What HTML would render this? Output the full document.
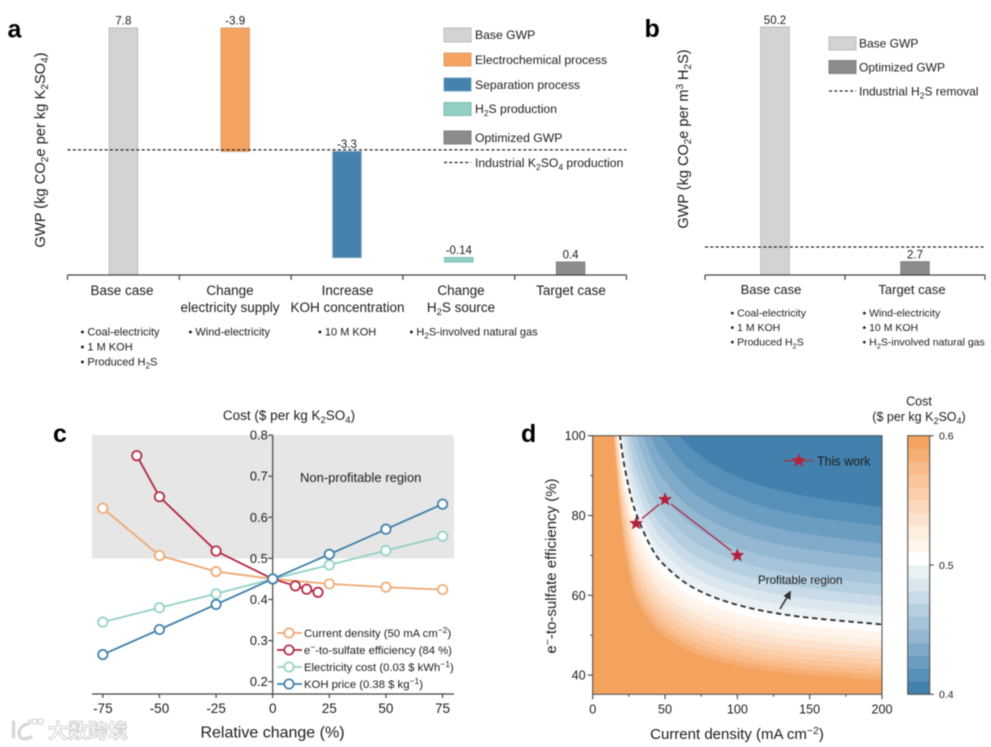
<!DOCTYPE html>
<html lang="en">
<head>
<meta charset="utf-8">
<title>GWP and cost analysis</title>
<style>
html,body{margin:0;padding:0;background:#fff;width:991px;height:747px;overflow:hidden}
svg{display:block;filter:blur(0.4px)}
text{font-family:"Liberation Sans","Noto Sans CJK SC",sans-serif;fill:#1c1c1c}
.b{font-weight:bold;font-size:25px;fill:#000}
</style>
</head>
<body>
<svg id="fig" xmlns="http://www.w3.org/2000/svg" width="991" height="747" viewBox="0 0 991 747">
<defs>
<clipPath id="clip-d"><rect x="592.7" y="435.7" width="289.3" height="258.6"/></clipPath>
</defs>
<g id="panel-a"></g>
<g id="panel-b"></g>
<g id="panel-c"></g>
<g id="panel-d"></g>

<text class="b" x="7.5" y="37.5">a</text>
<text class="b" x="644.5" y="37">b</text>
<text class="b" x="53" y="442">c</text>
<text class="b" x="521" y="442">d</text>

<!-- panel a static text -->
<text x="45" y="150" font-size="14.7" text-anchor="middle" transform="rotate(-90 45 150)">GWP (kg CO<tspan dy="3" font-size="10">2</tspan><tspan dy="-3">e per kg K</tspan><tspan dy="3" font-size="10">2</tspan><tspan dy="-3">SO</tspan><tspan dy="3" font-size="10">4</tspan><tspan dy="-3">)</tspan></text>
<g font-size="12.2">
<rect x="444" y="28" width="27" height="14" fill="#d3d3d3" stroke="#bbb"/>
<text x="475" y="39">Base GWP</text>
<rect x="444" y="53" width="27" height="13" fill="#f4a460" stroke="#d9a070"/>
<text x="475" y="64">Electrochemical process</text>
<rect x="444" y="78" width="27" height="13" fill="#4682ae" stroke="#6fa0c0"/>
<text x="475" y="89">Separation process</text>
<rect x="444" y="102.5" width="27" height="13" fill="#92d0c6" stroke="#7cbdb2"/>
<text x="475" y="113">H<tspan dy="3" font-size="8.5">2</tspan><tspan dy="-3">S production</tspan></text>
<rect x="444" y="131" width="27" height="13" fill="#8c8c8c" stroke="#808080"/>
<text x="475" y="142">Optimized GWP</text>
<line x1="444" x2="471" y1="162.5" y2="162.5" stroke="#222" stroke-width="1.3" stroke-dasharray="3 2.3"/>
<text x="475" y="167">Industrial K<tspan dy="3" font-size="8.5">2</tspan><tspan dy="-3">SO</tspan><tspan dy="3" font-size="8.5">4</tspan><tspan dy="-3"> production</tspan></text>
</g>
<g font-size="13.5" text-anchor="middle">
<text x="122" y="295">Base case</text>
<text x="230" y="295">Change</text>
<text x="230" y="312">electricity supply</text>
<text x="347.5" y="295">Increase</text>
<text x="347.5" y="312">KOH concentration</text>
<text x="461" y="295">Change</text>
<text x="461" y="312">H<tspan dy="3" font-size="9.5">2</tspan><tspan dy="-3">S source</tspan></text>
<text x="571" y="295">Target case</text>
</g>
<g font-size="11">
<text x="80.5" y="335.5">• Coal-electricity</text>
<text x="80.5" y="350.5">• 1 M KOH</text>
<text x="80.5" y="365.5">• Produced H<tspan dy="3" font-size="8">2</tspan><tspan dy="-3">S</tspan></text>
<text x="188.5" y="335.5">• Wind-electricity</text>
<text x="318" y="335.5">• 10 M KOH</text>
<text x="409.5" y="335.5">• H<tspan dy="3" font-size="8">2</tspan><tspan dy="-3">S-involved natural gas</tspan></text>
</g>

<!-- panel b static text -->
<text x="688" y="139" font-size="14.5" text-anchor="middle" transform="rotate(-90 688 139)">GWP (kg CO<tspan dy="3" font-size="10">2</tspan><tspan dy="-3">e per m</tspan><tspan dy="-5" font-size="10">3</tspan><tspan dy="5"> H</tspan><tspan dy="3" font-size="10">2</tspan><tspan dy="-3">S)</tspan></text>
<g font-size="12">
<rect x="829" y="37" width="27" height="13" fill="#d3d3d3" stroke="#bbb"/>
<text x="859" y="47.5">Base GWP</text>
<rect x="829" y="60.5" width="27" height="13" fill="#8c8c8c" stroke="#808080"/>
<text x="859" y="71.5">Optimized GWP</text>
<line x1="829" x2="856" y1="91" y2="91" stroke="#222" stroke-width="1.3" stroke-dasharray="3 2.3"/>
<text x="859" y="95.5">Industrial H<tspan dy="3" font-size="8.5">2</tspan><tspan dy="-3">S removal</tspan></text>
</g>
<g font-size="13" text-anchor="middle">
<text x="771" y="294">Base case</text>
<text x="912" y="294">Target case</text>
</g>
<g font-size="10.5">
<text x="730.5" y="316.5">• Coal-electricity</text>
<text x="730.5" y="331">• 1 M KOH</text>
<text x="730.5" y="345.5">• Produced H<tspan dy="3" font-size="7.5">2</tspan><tspan dy="-3">S</tspan></text>
<text x="862.5" y="316.5">• Wind-electricity</text>
<text x="862.5" y="331">• 10 M KOH</text>
<text x="862.5" y="345.5">• H<tspan dy="3" font-size="7.5">2</tspan><tspan dy="-3">S-involved natural gas</tspan></text>
</g>

<!-- panel c static text -->
<text x="289" y="420" font-size="13.5" text-anchor="middle">Cost ($ per kg K<tspan dy="3" font-size="9.5">2</tspan><tspan dy="-3">SO</tspan><tspan dy="3" font-size="9.5">4</tspan><tspan dy="-3">)</tspan></text>
<text x="272.5" y="737.5" font-size="16" text-anchor="middle">Relative change (%)</text>
<text x="300" y="482" font-size="13">Non-profitable region</text>

<!-- panel d static text -->
<text x="737" y="739" font-size="15" text-anchor="middle">Current density (mA cm<tspan dy="-5" font-size="10.5">−2</tspan><tspan dy="5">)</tspan></text>
<text x="556" y="566" font-size="15" text-anchor="middle" transform="rotate(-90 556 566)">e<tspan dy="-5" font-size="10.5">−</tspan><tspan dy="5">-to-sulfate efficiency (%)</tspan></text>
<text x="919" y="405.5" font-size="12.5" text-anchor="middle">Cost</text>
<text x="919" y="421" font-size="12.5" text-anchor="middle">($ per kg K<tspan dy="3" font-size="9">2</tspan><tspan dy="-3">SO</tspan><tspan dy="3" font-size="9">4</tspan><tspan dy="-3">)</tspan></text>

<g id="overlay-d">
<text x="758" y="584" font-size="11.6">Profitable region</text>
<text x="817" y="465.5" font-size="12.5">This work</text>
</g>

<!-- watermark -->
<g opacity="0.9">
<path d="M13.5 722 V737 M27 724 C19 727 17 733 21 738 C24 739 28 739 31 737" fill="none" stroke="#d2d2d2" stroke-width="3.2" stroke-linecap="round"/>
<line x1="29.5" y1="719" x2="29.5" y2="725" stroke="#d2d2d2" stroke-width="1.6"/>
<circle cx="34.5" cy="721.5" r="2.7" fill="#fff" stroke="#cfcfcf" stroke-width="1.2"/>
<circle cx="40.5" cy="721.5" r="2.7" fill="#fff" stroke="#cfcfcf" stroke-width="1.2"/>
<text x="48" y="738" font-size="20" font-weight="bold" letter-spacing="0" style="fill:#fff;stroke:#bdbdbd;stroke-width:.7">大数跨境</text>
</g>
</svg>

<script>
// ---------- Panel a data ----------
const aCategories = ['Base case', 'Change electricity supply', 'Increase KOH concentration', 'Change H2S source', 'Target case'];
const aDeltas = [7.8, -3.9, -3.35, -0.14, 0.41];
const aPrinted = ['7.8', '-3.9', '-3.3', '-0.14', '0.4'];
const aIndustrialLine = [3.95];

// ---------- Panel b data ----------
const bCategories = ['Base case', 'Target case'];
const bValues = [50.2, 2.7];
const bPrinted = ['50.2', '2.7'];
const bIndustrialLine = [5.67];

// ---------- Panel c data ----------
const cXTicks = [-75, -50, -25, 0, 25, 50, 75];
const cYTicks = [0.2, 0.3, 0.4, 0.5, 0.6, 0.7, 0.8];
const cProfitLimit = [0.5];
const currentX = [-75, -50, -25, 0, 25, 50, 75];
const currentY = [0.622, 0.507, 0.468, 0.45, 0.438, 0.43, 0.424];
const efficiencyX = [-60, -50, -25, 0, 10, 15, 20];
const efficiencyY = [0.75, 0.65, 0.518, 0.45, 0.433, 0.425, 0.4175];
const electricityX = [-75, -50, -25, 0, 25, 50, 75];
const electricityY = [0.345, 0.38, 0.414, 0.45, 0.484, 0.519, 0.554];
const kohX = [-75, -50, -25, 0, 25, 50, 75];
const kohY = [0.266, 0.327, 0.388, 0.45, 0.51, 0.571, 0.632];

// ---------- Panel d data ----------
const dXTicks = [0, 50, 100, 150, 200];
const dXMinor = [25, 75, 125, 175];
const dYTicks = [40, 60, 80, 100];
const dYMinor = [50, 70, 90];
const workCurrent = [30, 50, 100];
const workEfficiency = [78, 84, 70];
const contourLevels = [0.41,0.42,0.43,0.44,0.45,0.46,0.47,0.48,0.49,0.50,0.51,0.52,0.53,0.54,0.55,0.56,0.57,0.58,0.59];
const contourCurrents = [10,12,15,20,25,30,40,50,70,100,140,200];
const contourEfficiency = [
 [227,201.7,176.2,150.8,135.5,125.4,112.6,105,96.3,89.7,85.4,82.1],
 [213.8,189.9,165.8,141.9,127.6,118,106,98.8,90.6,84.5,80.4,77.3],
 [201.9,179.4,156.6,134.1,120.5,111.5,100.1,93.4,85.6,79.8,75.9,73],
 [191.6,170.2,148.6,127.2,114.3,105.8,95,88.6,81.2,75.7,72,69.3],
 [182,161.7,141.2,120.8,108.6,100.5,90.3,84.1,77.2,71.9,68.4,65.8],
 [173.4,154,134.5,115.1,103.4,95.7,86,80.1,73.5,68.5,65.2,62.7],
 [165.5,147,128.4,109.9,98.8,91.4,82.1,76.5,70.1,65.4,62.2,59.8],
 [158.5,140.8,122.9,105.2,94.6,87.5,78.6,73.3,67.2,62.6,59.6,57.3],
 [151.9,134.9,117.8,100.8,90.6,83.9,75.3,70.2,64.4,60,57.1,54.9],
 [145.8,129.5,113.1,96.8,87,80.5,72.3,67.4,61.8,57.6,54.8,52.7],
 [140,127.9,111.3,94.6,84.7,77.4,69.5,64.8,59.4,55.4,52.7,50.7],
 [136,126.3,109.5,92.4,82.3,74.5,66.9,62.4,57.2,53.3,50.7,48.8],
 [132,124.7,107.8,90.2,80,71.9,64.6,60.2,55.2,51.5,49,47.1],
 [130,123.1,106,88,77.7,69.5,62.4,58.2,53.3,49.7,47.3,45.5],
 [128,121.4,104.2,85.8,75.3,67.1,60.3,56.2,51.5,48,45.7,44],
 [126,119.8,102.4,83.6,73,65,58.4,54.4,49.9,46.5,44.2,42.5],
 [124,118.2,100.7,81.4,70.7,63,56.6,52.7,48.4,45.1,42.9,41.2],
 [122,116.6,98.9,79.2,68.3,61.1,54.9,51.1,46.9,43.7,41.6,40],
 [120,115,97.1,77,66,59.3,53.2,49.6,45.5,42.4,40.4,38.8]
];
const profitableEfficiency = [145.8,129.5,113.1,96.8,87,80.5,72.3,67.4,61.8,57.6,54.8,52.7];
const colorbarTicks = [0.4, 0.5, 0.6];

// ---------- styling (not data) ----------
const bandColors = ['#4280ae','#568fb8','#6b9dc1','#80aac9','#94b8d2','#a5c3d9','#b6cfe0','#c9dbe8','#dbe7ef','#eaf1f5','#ffffff','#fff5ec','#feeedf','#fde3cf','#fcd9bd','#fbcfab','#fac59a','#f9bb89','#f6ae74','#f4a35e'];
const SVGNS = 'http://www.w3.org/2000/svg';

function make(tag, attrs, parent) {
  const n = document.createElementNS(SVGNS, tag);
  for (const k in attrs) n.setAttribute(k, attrs[k]);
  parent.appendChild(n);
  return n;
}

const AXIS = '#444';

// ---------- Panel a ----------
(function () {
  const g = document.getElementById('panel-a');
  const y0 = 275, unit = 31.67;
  const y = v => y0 - v * unit;
  const bandL = 67.5, bandW = 111.8, barW = 28.5;
  const xCenter = i => bandL + bandW * (i + 0.5);
  const fills = ['#d3d3d3', '#f4a460', '#4682ae', '#92d0c6', '#8c8c8c'];
  const strokes = ['#bbb', '#d9a070', '#6fa0c0', '#7cbdb2', '#808080'];
  let running = 0;
  aDeltas.forEach((d, i) => {
    const from = i === aDeltas.length - 1 ? 0 : running;
    const to = from + d;
    running = to;
    const top = Math.min(y(from), y(to));
    const h = Math.abs(y(from) - y(to));
    const cx = xCenter(i);
    const bar = make('rect', { x: cx - barW / 2, y: top, width: barW, height: h, fill: fills[i], stroke: strokes[i], 'stroke-width': 1 }, g);
    
    
    const lab = make('text', { x: cx, y: top - 3.5, 'font-size': 11.5, 'text-anchor': 'middle' }, g);
    lab.textContent = aPrinted[i];
    
    
  });
  const axis = make('line', { x1: bandL, x2: bandL + bandW * aCategories.length, y1: y0, y2: y0, stroke: AXIS, 'stroke-width': 1.2 }, g);
  
  
  for (let i = 0; i <= aCategories.length; i++) {
    const t = make('line', { x1: bandL + bandW * i, x2: bandL + bandW * i, y1: y0, y2: y0 + 5, stroke: AXIS, 'stroke-width': 1.2 }, g);
    
    
  }
  const dash = make('line', { x1: bandL, x2: bandL + bandW * aCategories.length, y1: y(aIndustrialLine[0]), y2: y(aIndustrialLine[0]), stroke: '#222', 'stroke-width': 1.3, 'stroke-dasharray': '3 2.3' }, g);
  
  
})();

// ---------- Panel b ----------
(function () {
  const g = document.getElementById('panel-b');
  const y0 = 275, unit = 4.94;
  const y = v => y0 - v * unit;
  const left = 705, band = 140, barW = 28.5;
  const xCenter = i => left + band * (i + 0.5);
  const fills = ['#d3d3d3', '#8c8c8c'];
  const strokes = ['#bbb', '#808080'];
  bValues.forEach((v, i) => {
    const cx = xCenter(i);
    const bar = make('rect', { x: cx - barW / 2, y: y(v), width: barW, height: y0 - y(v), fill: fills[i], stroke: strokes[i], 'stroke-width': 1 }, g);
    
    
    const lab = make('text', { x: cx, y: y(v) - 3, 'font-size': 11.5, 'text-anchor': 'middle' }, g);
    lab.textContent = bPrinted[i];
    
    
  });
  const axis = make('line', { x1: left, x2: left + band * bCategories.length, y1: y0, y2: y0, stroke: AXIS, 'stroke-width': 1.2 }, g);
  
  
  for (let i = 0; i <= bCategories.length; i++) {
    const t = make('line', { x1: left + band * i, x2: left + band * i, y1: y0, y2: y0 + 5, stroke: AXIS, 'stroke-width': 1.2 }, g);
    
    
  }
  const dash = make('line', { x1: left, x2: left + band * bCategories.length, y1: y(bIndustrialLine[0]), y2: y(bIndustrialLine[0]), stroke: '#222', 'stroke-width': 1.3, 'stroke-dasharray': '3 2.3' }, g);
  
  
})();

// ---------- Panel c ----------
(function () {
  const g = document.getElementById('panel-c');
  const x = v => 272.7 + v * 2.265;
  const y = v => 681.7 - (v - 0.2) * 411;
  const leftX = 92, rightX = 454, axisY = 694;
  const shade = make('rect', { x: leftX, y: y(0.8), width: rightX - leftX, height: y(cProfitLimit[0]) - y(0.8), fill: '#e6e6e6' }, g);
  
  
  const ax = make('line', { x1: leftX, x2: rightX, y1: axisY, y2: axisY, stroke: AXIS, 'stroke-width': 1.2 }, g);
  
  
  const ay = make('line', { x1: x(0), x2: x(0), y1: y(0.8), y2: axisY, stroke: AXIS, 'stroke-width': 1.2 }, g);
  
  
  cXTicks.forEach(v => {
    const t = make('line', { x1: x(v), x2: x(v), y1: axisY, y2: axisY + 4, stroke: AXIS, 'stroke-width': 1.2 }, g);
    
    
    const l = make('text', { x: x(v), y: axisY + 19, 'font-size': 13.5, 'text-anchor': 'middle' }, g);
    l.textContent = String(v);
    
    
  });
  cYTicks.forEach(v => {
    const t = make('line', { x1: x(0) - 4.5, x2: x(0), y1: y(v), y2: y(v), stroke: AXIS, 'stroke-width': 1.2 }, g);
    
    
    const l = make('text', { x: x(0) - 5, y: y(v) + 4.5, 'font-size': 12.8, 'text-anchor': 'end' }, g);
    l.textContent = v.toFixed(1);
    
    
  });
  const series = [
    { key: 'current-density', xs: currentX, ys: currentY, color: '#efa971' },
    { key: 'efficiency', xs: efficiencyX, ys: efficiencyY, color: '#b2263f' },
    { key: 'electricity-cost', xs: electricityX, ys: electricityY, color: '#93d1c6' },
    { key: 'koh-price', xs: kohX, ys: kohY, color: '#3f7fa9' }
  ];
  series.forEach(s => {
    const pl = make('polyline', { points: s.xs.map((v, i) => x(v) + ',' + y(s.ys[i])).join(' '), fill: 'none', stroke: s.color, 'stroke-width': 1.8 }, g);
    
    
    s.xs.forEach((v, i) => {
      const c = make('circle', { cx: x(v), cy: y(s.ys[i]), r: 4.7, fill: '#fff', stroke: s.color, 'stroke-width': 1.7 }, g);
      
      
    });
  });
  // legend
  const legendRows = [633, 650, 667, 684];
  const legendMarkup = [
    'Current density (50 mA cm<tspan dy="-4" font-size="8.5">−2</tspan><tspan dy="4">)</tspan>',
    'e<tspan dy="-4" font-size="8.5">−</tspan><tspan dy="4">-to-sulfate efficiency (84 %)</tspan>',
    'Electricity cost (0.03 $ kWh<tspan dy="-4" font-size="8.5">−1</tspan><tspan dy="4">)</tspan>',
    'KOH price (0.38 $ kg<tspan dy="-4" font-size="8.5">−1</tspan><tspan dy="4">)</tspan>'
  ];
  series.forEach((s, i) => {
    const ly = legendRows[i];
    const ln = make('line', { x1: 277, x2: 302, y1: ly, y2: ly, stroke: s.color, 'stroke-width': 1.7 }, g);
    
    
    const c = make('circle', { cx: 289, cy: ly, r: 4.7, fill: '#fff', stroke: s.color, 'stroke-width': 1.7 }, g);
    
    
    const t = make('text', { x: 304, y: ly + 4, 'font-size': 11.3 }, g);
    t.innerHTML = legendMarkup[i];
    
    
  });
})();

// ---------- Panel d ----------
(function () {
  const g = document.getElementById('panel-d');
  const left = 592.7, right = 882, top = 435.7, bottom = 694.3;
  const x = v => left + v * (right - left) / 200;
  const y = v => top + (100 - v) * 3.99;
  const smooth = pts => {
    let d = 'M' + pts[0][0] + ' ' + pts[0][1];
    for (let i = 0; i < pts.length - 1; i++) {
      const p0 = pts[i - 1] || pts[i], p1 = pts[i], p2 = pts[i + 1], p3 = pts[i + 2] || p2;
      d += 'C' + (p1[0] + (p2[0] - p0[0]) / 6) + ' ' + (p1[1] + (p2[1] - p0[1]) / 6) + ' ' +
        (p2[0] - (p3[0] - p1[0]) / 6) + ' ' + (p2[1] - (p3[1] - p1[1]) / 6) + ' ' + p2[0] + ' ' + p2[1];
    }
    return d;
  };
  const clip = make('g', { 'clip-path': 'url(#clip-d)' }, g);
  
  
  const bg = make('rect', { x: left, y: top, width: right - left, height: bottom - top, fill: bandColors[bandColors.length - 1] }, clip);
  
  
  for (let i = contourLevels.length - 1; i >= 0; i--) {
    const pts = contourCurrents.map((c, k) => [x(c), y(contourEfficiency[i][k])]);
    const first = pts[0], last = pts[pts.length - 1];
    const p = make('path', { d: smooth(pts) + 'L' + (last[0] + 2) + ' ' + last[1] + 'L' + (last[0] + 2) + ' ' + (top - 5) + 'L' + first[0] + ' ' + (top - 5) + 'Z', fill: bandColors[i] }, clip);
    
    
  }
  const dashPts = contourCurrents.map((c, k) => [x(c), y(profitableEfficiency[k])]);
  const dl = make('path', { d: smooth(dashPts), fill: 'none', stroke: '#2b2b2b', 'stroke-width': 1.8, 'stroke-dasharray': '5.5 3.6' }, clip);
  
  

  const frame = make('rect', { x: left, y: top, width: right - left, height: bottom - top, fill: 'none', stroke: '#555', 'stroke-width': 1.1 }, g);
  
  

  dXTicks.forEach(v => {
    const t = make('line', { x1: x(v), x2: x(v), y1: bottom, y2: bottom + 5, stroke: AXIS, 'stroke-width': 1.1 }, g);
    
    
    const l = make('text', { x: x(v), y: bottom + 19, 'font-size': 12.6, 'text-anchor': 'middle' }, g);
    l.textContent = String(v);
    
    
  });
  dXMinor.forEach(v => {
    const t = make('line', { x1: x(v), x2: x(v), y1: bottom, y2: bottom + 2.5, stroke: AXIS, 'stroke-width': 1 }, g);
    
    
  });
  dYTicks.forEach(v => {
    const t = make('line', { x1: left - 5, x2: left, y1: y(v), y2: y(v), stroke: AXIS, 'stroke-width': 1.1 }, g);
    
    
    const l = make('text', { x: left - 7, y: y(v) + 4.5, 'font-size': 12.6, 'text-anchor': 'end' }, g);
    l.textContent = String(v);
    
    
  });
  dYMinor.forEach(v => {
    const t = make('line', { x1: left - 2.5, x2: left, y1: y(v), y2: y(v), stroke: AXIS, 'stroke-width': 1 }, g);
    
    
  });

  const starPoints = (cx, cy, R) => {
    const out = [];
    for (let i = 0; i < 10; i++) {
      const r = i % 2 ? R * 0.42 : R;
      const a = -Math.PI / 2 + i * Math.PI / 5;
      out.push((cx + r * Math.cos(a)) + ',' + (cy + r * Math.sin(a)));
    }
    return out.join(' ');
  };
  const RED = '#b2223a';
  const WORK_LINE = '#a83348';
  for (let i = 0; i < workCurrent.length - 1; i++) {
    const x1 = x(workCurrent[i]), y1 = y(workEfficiency[i]), x2 = x(workCurrent[i + 1]), y2 = y(workEfficiency[i + 1]);
    const len = Math.hypot(x2 - x1, y2 - y1), gap = 7.5;
    const ux = (x2 - x1) / len, uy = (y2 - y1) / len;
    const seg = make('line', { x1: x1 + ux * gap, y1: y1 + uy * gap, x2: x2 - ux * gap, y2: y2 - uy * gap, stroke: WORK_LINE, 'stroke-width': 1.4 }, g);
    
    
  }
  workCurrent.forEach((c, i) => {
    const s = make('polygon', { points: starPoints(x(c), y(workEfficiency[i]), 7.4), fill: RED }, g);
    
    
  });
  const ll = make('line', { x1: 784, x2: 813.5, y1: 460.7, y2: 460.7, stroke: WORK_LINE, 'stroke-width': 1.4 }, g);
  
  
  const ls = make('polygon', { points: starPoints(798.7, 460.7, 7.4), fill: RED }, g);
  
  

  const arrowLine = make('line', { x1: 780, y1: 609, x2: 787.5, y2: 596.5, stroke: '#333', 'stroke-width': 1.6 }, g);
  
  
  const arrowHead = make('polygon', { points: '790.8,590.5 790.5,600 783.5,596', fill: '#333' }, g);
  
  

  // colorbar
  const cbL = 907.7, cbR = 929.7;
  const cy = v => bottom - (v - 0.4) * (bottom - top) / 0.2;
  bandColors.forEach((color, i) => {
    const lo = i === 0 ? 0.4 : contourLevels[i - 1];
    const hi = i === bandColors.length - 1 ? 0.6 : contourLevels[i];
    const r = make('rect', { x: cbL, y: cy(hi), width: cbR - cbL, height: cy(lo) - cy(hi) + 0.3, fill: color }, g);
    
    
  });
  const cbFrame = make('rect', { x: cbL, y: top, width: cbR - cbL, height: bottom - top, fill: 'none', stroke: '#555', 'stroke-width': 1.1 }, g);
  
  
  colorbarTicks.forEach(v => {
    const t = make('line', { x1: cbR, x2: cbR + 4, y1: cy(v), y2: cy(v), stroke: AXIS, 'stroke-width': 1.1 }, g);
    
    
    const l = make('text', { x: 939, y: cy(v) + 3.8, 'font-size': 10.5 }, g);
    l.textContent = v.toFixed(1);
    
    
  });
})();
</script>
</body>
</html>
